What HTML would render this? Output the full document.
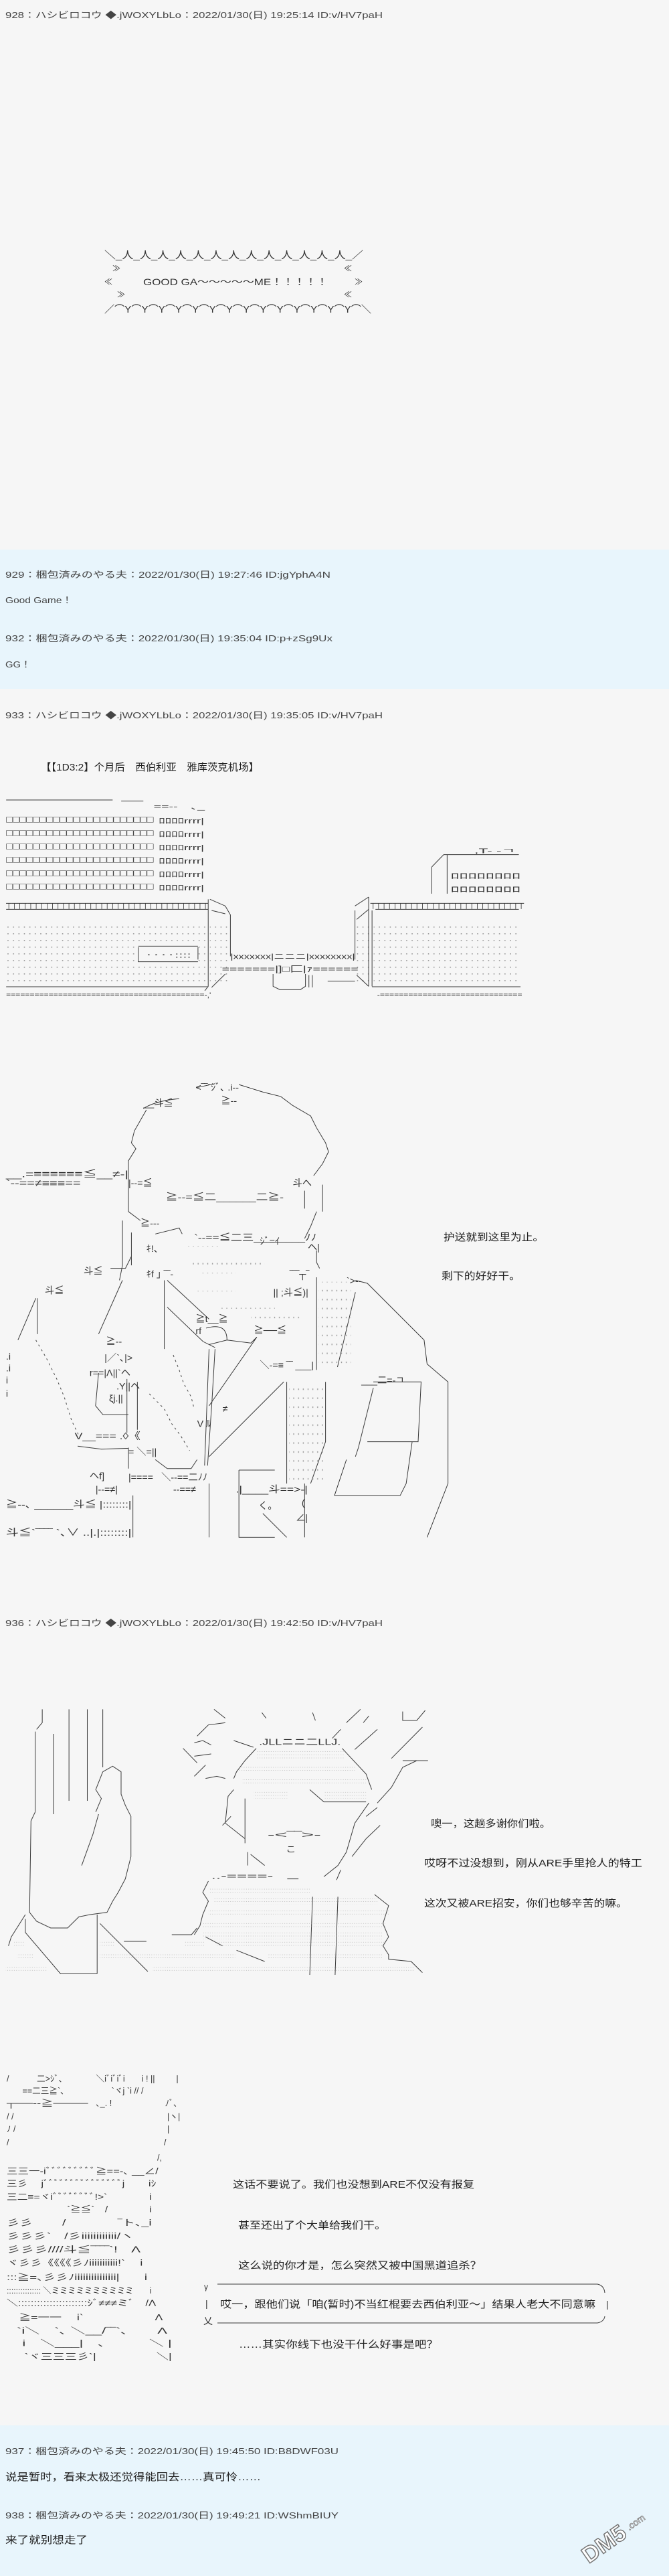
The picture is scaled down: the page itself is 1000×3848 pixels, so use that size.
<!DOCTYPE html>
<html><head><meta charset="utf-8">
<style>
html,body{margin:0;padding:0;background:#f6f6f6;}
svg{display:block}
.s{fill:none;stroke:#3a3a3a;stroke-width:1;vector-effect:non-scaling-stroke}
.d{fill:none;stroke:#444;stroke-width:1;stroke-dasharray:3 5;vector-effect:non-scaling-stroke}
.t{font-family:"Liberation Sans","Noto Sans CJK JP",sans-serif;fill:#333}
.h{font-family:"Liberation Sans","Noto Sans CJK JP",sans-serif;fill:#444;font-size:13px}
.b{font-family:"Liberation Sans","Noto Sans CJK SC",sans-serif;fill:#222;font-size:15px}
</style></head><body>
<svg width="1000" height="3848" viewBox="0 0 1000 3848" xmlns="http://www.w3.org/2000/svg">
<defs>
<pattern id="dp" patternUnits="userSpaceOnUse" width="16" height="30"><rect x="6" y="12" width="3" height="5" fill="#999"/></pattern>
<pattern id="dq" patternUnits="userSpaceOnUse" width="8" height="14"><rect x="2" y="5" width="2" height="2" fill="#999"/></pattern>
</defs>
<rect width="1000" height="3848" fill="#f6f6f6"/>
<rect x="0" y="821" width="1000" height="208" fill="#e8f5fc"/>
<rect x="0" y="3623" width="1000" height="225" fill="#e8f5fc"/>

<!-- 928 -->
<text class="h" x="8" y="27" textLength="564" lengthAdjust="spacingAndGlyphs">928：ハシビロコウ ◆.jWOXYLbLo：2022/01/30(日) 19:25:14 ID:v/HV7paH</text>
<text class="t" x="156" y="386" font-size="15" textLength="387" lengthAdjust="spacingAndGlyphs">＼_人_人_人_人_人_人_人_人_人_人_人_人_人_／</text>
<text class="t" x="168" y="405" font-size="12">≫</text>
<text class="t" x="514" y="405" font-size="12">≪</text>
<text class="t" x="156" y="425" font-size="12">≪</text>
<text class="t" x="214" y="426" font-size="14" textLength="276" lengthAdjust="spacingAndGlyphs">GOOD GA～～～～～ME！！！！！</text>
<text class="t" x="530" y="425" font-size="12">≫</text>
<text class="t" x="175" y="444" font-size="12">≫</text>
<text class="t" x="514" y="444" font-size="12">≪</text>
<text class="t" x="156" y="467" font-size="15" textLength="399" lengthAdjust="spacingAndGlyphs">／⌒Y⌒Y⌒Y⌒Y⌒Y⌒Y⌒Y⌒Y⌒Y⌒Y⌒Y⌒Y⌒Y⌒Y⌒＼</text>

<!-- 929/932 -->
<text class="h" x="8" y="863" textLength="486" lengthAdjust="spacingAndGlyphs">929：梱包済みのやる夫：2022/01/30(日) 19:27:46 ID:jgYphA4N</text>
<text class="h" x="8" y="901" textLength="100" lengthAdjust="spacingAndGlyphs">Good Game！</text>
<text class="h" x="8" y="958" textLength="489" lengthAdjust="spacingAndGlyphs">932：梱包済みのやる夫：2022/01/30(日) 19:35:04 ID:p+zSg9Ux</text>
<text class="h" x="8" y="997" textLength="38" lengthAdjust="spacingAndGlyphs">GG！</text>

<!-- 933 -->
<text class="h" x="8" y="1073" textLength="564" lengthAdjust="spacingAndGlyphs">933：ハシビロコウ ◆.jWOXYLbLo：2022/01/30(日) 19:35:05 ID:v/HV7paH</text>
<text class="b" x="61" y="1151" textLength="326" lengthAdjust="spacingAndGlyphs">【【1D3:2】个月后　西伯利亚　雅库茨克机场】</text>

<!-- airport -->
<svg x="0" y="1180" width="800" height="320" viewBox="0 0 1568 960" preserveAspectRatio="none">
<path class="s" d="M18,45 L330,45 M355,50 L420,50"/>
<text class="t" x="450" y="85" font-size="32" textLength="150" lengthAdjust="spacingAndGlyphs">==--　､_</text>
<g class="t" font-size="40">
<text x="18" y="145" textLength="432" lengthAdjust="spacingAndGlyphs">□□□□□□□□□□□□□□□□□□□□□□</text>
<text x="18" y="205" textLength="432" lengthAdjust="spacingAndGlyphs">□□□□□□□□□□□□□□□□□□□□□□</text>
<text x="18" y="265" textLength="432" lengthAdjust="spacingAndGlyphs">□□□□□□□□□□□□□□□□□□□□□□</text>
<text x="18" y="325" textLength="432" lengthAdjust="spacingAndGlyphs">□□□□□□□□□□□□□□□□□□□□□□</text>
<text x="18" y="385" textLength="432" lengthAdjust="spacingAndGlyphs">□□□□□□□□□□□□□□□□□□□□□□</text>
<text x="18" y="445" textLength="432" lengthAdjust="spacingAndGlyphs">□□□□□□□□□□□□□□□□□□□□□□</text>
</g>
<g class="t" font-size="34">
<text x="465" y="150" textLength="133" lengthAdjust="spacingAndGlyphs">ﾛﾛﾛﾛrrrr|</text>
<text x="465" y="210" textLength="133" lengthAdjust="spacingAndGlyphs">ﾛﾛﾛﾛrrrr|</text>
<text x="465" y="270" textLength="133" lengthAdjust="spacingAndGlyphs">ﾛﾛﾛﾛrrrr|</text>
<text x="465" y="330" textLength="133" lengthAdjust="spacingAndGlyphs">ﾛﾛﾛﾛrrrr|</text>
<text x="465" y="390" textLength="133" lengthAdjust="spacingAndGlyphs">ﾛﾛﾛﾛrrrr|</text>
<text x="465" y="450" textLength="133" lengthAdjust="spacingAndGlyphs">ﾛﾛﾛﾛrrrr|</text>
</g>
<text class="t" x="18" y="520" font-size="42" textLength="592" lengthAdjust="spacingAndGlyphs">┬┬┬┬┬┬┬┬┬┬┬┬┬┬┬┬┬┬┬┬┬┬┬┬┬┬┬┬┬┬┬┬┬┬┬┬┬</text>
<text class="t" x="1085" y="520" font-size="42" textLength="450" lengthAdjust="spacingAndGlyphs">┬┬┬┬┬┬┬┬┬┬┬┬┬┬┬┬┬┬┬┬┬┬┬┬┬┬┬┬</text>
<path class="s" d="M18,535 L610,535 M1100,535 L1520,535"/>
<rect x="18" y="595" width="585" height="280" fill="url(#dp)"/>
<rect x="1095" y="595" width="430" height="280" fill="url(#dp)"/>
<rect x="615" y="595" width="55" height="280" fill="url(#dp)"/>
<rect x="1045" y="595" width="40" height="280" fill="url(#dp)"/>
<rect x="405" y="700" width="175" height="72" fill="#f6f6f6"/>
<path class="s" d="M405,700 L580,700 M405,705 L405,770 L580,770 M580,705 L580,760"/>
<text class="t" x="425" y="752" font-size="34" textLength="135" lengthAdjust="spacingAndGlyphs">‥‥::::</text>
<path class="s" d="M610,490 L610,880 L600,900 M615,490 L660,520 L675,560 L675,745 M620,540 L660,555 M620,885 L660,825"/>
<path class="s" d="M18,882 L610,882 M1090,882 L1525,882"/>
<text class="t" x="18" y="930" font-size="34" textLength="600" lengthAdjust="spacingAndGlyphs">==========================================-,'</text>
<text class="t" x="1105" y="930" font-size="34" textLength="425" lengthAdjust="spacingAndGlyphs">-==============================</text>
<text class="t" x="675" y="758" font-size="34" textLength="365" lengthAdjust="spacingAndGlyphs">|xxxxxxx|ニニニ|xxxxxxxx|</text>
<text class="t" x="650" y="815" font-size="36" textLength="400" lengthAdjust="spacingAndGlyphs">=======|]□匚|ｧ======</text>
<path class="s" d="M800,825 L800,880 L820,895 L880,895 L895,880 L895,825 M905,830 L905,885 M915,830 L915,885 M960,857 L1040,857 M1045,830 L1080,880"/>
<path class="s" d="M1040,520 L1080,480 M1040,540 L1040,760 M1045,580 L1080,535 M1080,480 L1080,880 M1090,540 L1090,880"/>
<path class="s" d="M1265,345 L1300,290 L1520,290 M1310,290 L1310,465 M1265,345 L1265,465"/>
<text class="t" x="1390" y="283" font-size="30" textLength="120" lengthAdjust="spacingAndGlyphs">,T- -ㄱ</text>
<text class="t" x="1320" y="397" font-size="36" textLength="205" lengthAdjust="spacingAndGlyphs">ﾛﾛﾛﾛﾛﾛﾛﾛ</text>
<text class="t" x="1320" y="457" font-size="36" textLength="205" lengthAdjust="spacingAndGlyphs">ﾛﾛﾛﾛﾛﾛﾛﾛ</text>
</svg>

<!-- soldier -->
<svg x="0" y="1600" width="700" height="700" viewBox="0 0 1568 1568" preserveAspectRatio="none">
<g class="t" font-size="32">
<text x="480" y="118">__斗≦</text><text x="740" y="110">≧--</text><text x="655" y="65">&lt;‾‾`ｼﾞ､ .i--</text>
<text x="20" y="355" textLength="410" lengthAdjust="spacingAndGlyphs">__.=≡≡≡≡≡≡≦__≠-|</text>
<text x="20" y="385" textLength="250" lengthAdjust="spacingAndGlyphs">`--==≠≡≡≡==</text>
<text x="430" y="385">|--=≦</text>
<text x="555" y="432" textLength="395" lengthAdjust="spacingAndGlyphs">≧--=≦二______二≧-</text>
<text x="980" y="385">斗へ</text>
<text x="470" y="520">≧---</text>
<text x="650" y="568" textLength="410" lengthAdjust="spacingAndGlyphs">`--==≦二三________ﾉﾉ</text>
<text x="490" y="605">ｷ!､</text><text x="870" y="580">ｼﾞ=ｲ</text><text x="1030" y="600">ヘ|</text>
<text x="280" y="680">斗≦</text><text x="150" y="745">斗≦</text>
<text x="490" y="690">ｷf ｣ ‾‾-</text><text x="970" y="690">‾‾‾┬‾</text>
<text x="915" y="752">|| ;斗≦)|</text><text x="1160" y="712">`>--</text>
<text x="655" y="840">≧t__≧</text><text x="655" y="880">rf</text>
<text x="850" y="878">≧──≦</text>
<text x="355" y="915">≧--</text><text x="350" y="970">|／`､|&gt;</text>
<text x="300" y="1020">r==|Λ||`ヘ</text><text x="390" y="1065">.Y||ヘ</text><text x="365" y="1105">ξj.||</text>
<text x="745" y="1140">≠</text><text x="660" y="1190">V ﾙ</text>
<text x="250" y="1232" textLength="220" lengthAdjust="spacingAndGlyphs">V__=== .◊《</text>
<text x="430" y="1285">= ＼=||</text>
<text x="300" y="1365">ヘf]</text><text x="430" y="1370">|====</text><text x="540" y="1370">＼--==二ﾉﾉ</text>
<text x="320" y="1410">|--=≠|</text><text x="580" y="1410">--==≠</text>
<text x="20" y="1460" textLength="420" lengthAdjust="spacingAndGlyphs">≧--､ ______斗≦ |::::::::|</text>
<text x="20" y="1555" textLength="420" lengthAdjust="spacingAndGlyphs">斗≦`‾‾‾‾ `､∨ ..|.|::::::::|</text>
<text x="790" y="1410" textLength="240" lengthAdjust="spacingAndGlyphs">.|____斗==&gt;-|</text>
<text x="865" y="1465">く｡</text><text x="1010" y="1455">(</text><text x="990" y="1505">∠|</text>
<text x="870" y="995">＼-=≡ ‾‾ ___|</text>
<text x="1210" y="1045">___二=-ㄱ</text>
<text x="20" y="965">.i</text><text x="20" y="1005">.i</text><text x="20" y="1045">i</text><text x="20" y="1090">i</text>
</g>
<path class="s" d="M480,125 Q520,100 600,92 M660,55 L720,42 M800,45 L880,70 L940,85 L980,115 L1040,150 L1060,190 L1090,240 L1100,270 L1080,310 L1050,350"/>
<path class="s" d="M490,130 L450,200 L440,240 L455,260 L430,300 L430,330 M430,330 L430,470 L470,500"/>
<path class="s" d="M1020,400 L1020,460 M1080,380 L1080,470 M1060,470 L1040,520 L1020,560 M1060,600 L1060,640 L1070,660"/>
<path class="s" d="M520,545 L600,525 L610,545 M410,500 L410,650 L400,700 M440,540 L440,650 M370,660 L420,660 L440,620"/>
<path class="s" d="M120,760 L60,900 M125,760 L125,880 M410,700 L330,880"/>
<path class="d" d="M120,900 L155,960 L190,1030 L215,1090 L240,1170 L262,1215 M580,950 L600,1000 L615,1045 L640,1090 L650,1130 M500,1080 L550,1130 L575,1180 L605,1220 L635,1270"/>
<path class="s" d="M330,1010 L320,1120 L345,1150 L430,1150 M425,1030 L425,1210 M460,1040 L460,1200 M430,1260 L430,1330 M260,1255 L340,1265 L430,1262"/>
<path class="s" d="M550,700 L550,930 M560,700 L700,830 M560,790 L680,905 L720,925 M690,860 Q760,840 760,900 L700,915 M720,930 L710,1100 L695,1320 M700,930 L685,1320 M760,900 L840,910 L860,890 M860,890 L700,1120 M950,1040 L700,1290"/>
<path class="s" d="M520,1300 L560,1330 L640,1330 L660,1300 M700,1380 L700,1560 M445,1420 L445,1560"/>
<path class="s" d="M1060,690 L1060,1000 M1190,700 L1230,710 L1420,900 L1430,980 L1500,1040 L1500,1380 L1430,1560"/>
<rect x="1065" y="705" width="110" height="290" fill="url(#dp)"/>
<path class="s" d="M1190,740 L1130,990 M960,1040 L960,1380 M1090,1040 L1090,1240 L1040,1380"/>
<rect x="968" y="1040" width="118" height="330" fill="url(#dp)"/>
<path class="s" d="M1250,1040 L1410,1040 L1400,1240 L1230,1240 M1250,1060 L1200,1260 L1190,1290 M1380,1240 L1360,1380 L1340,1420 L1120,1420 L1160,1300"/>
<path class="s" d="M800,1335 L920,1335 M800,1335 L800,1560 L920,1560 M880,1480 L960,1560 M1020,1380 L1020,1560"/>
<rect x="630" y="585" width="100" height="20" fill="url(#dp)"/>
<rect x="640" y="625" width="245" height="25" fill="url(#dp)"/>
<rect x="670" y="675" width="120" height="25" fill="url(#dp)"/>
<rect x="660" y="735" width="130" height="20" fill="url(#dp)"/>
<rect x="740" y="770" width="180" height="25" fill="url(#dp)"/>
<rect x="840" y="810" width="170" height="25" fill="url(#dp)"/>
</svg>
<text class="b" x="663" y="1853" textLength="150" lengthAdjust="spacingAndGlyphs">护送就到这里为止。</text>
<text class="b" x="660" y="1911" textLength="118" lengthAdjust="spacingAndGlyphs">剩下的好好干。</text>

<!-- 936 -->
<text class="h" x="8" y="2429" textLength="564" lengthAdjust="spacingAndGlyphs">936：ハシビロコウ ◆.jWOXYLbLo：2022/01/30(日) 19:42:50 ID:v/HV7paH</text>
<svg x="0" y="2540" width="660" height="430" viewBox="0 0 1568 1290" preserveAspectRatio="none">
<path class="s" d="M150,40 L150,100 L130,130 M125,140 L125,500 M190,150 L190,510 M245,40 L245,450 M310,40 L310,450 M365,40 L365,300"/>
<path class="s" d="M365,320 L400,295 L430,320 L430,420 L445,470 L465,520 L465,700 L445,800 L420,860 L400,900 M365,320 L340,400 L360,440 L350,470 L340,500 M350,510 L330,600 L290,740"/>
<path class="s" d="M125,500 L110,540 L105,950 L130,990 L180,1020 L240,1020 L280,970 L320,960 L380,950 L400,900"/>
<path class="s" d="M90,960 L70,1000 L40,1060 L30,1100 M90,980 L90,1040 L215,1225 L345,1225 M345,960 L345,1225 M355,1000 L525,1215 M440,1080 L520,1080 M610,1050 L680,1050 L700,1020"/>
<path class="s" d="M760,40 L800,80 M930,55 L945,80 M1110,55 L1120,90 M1280,40 L1230,100 M1310,70 L1290,100 M1430,50 L1430,90 L1480,90 L1510,45 M1500,120 L1390,260 M1340,130 L1260,220 M1210,130 L1180,170 M1430,270 L1520,270 M1480,270 L1430,300 L1390,390 L1340,460"/>
<path class="s" d="M700,160 L740,110 L800,100 M690,190 L720,180 L750,200 M650,215 L700,280 M690,250 L750,240 M730,290 L690,340 M730,350 L770,340 L800,350 M830,180 L900,210"/>
<text class="t" x="920" y="200" font-size="40" textLength="290" lengthAdjust="spacingAndGlyphs">.JLLニニ二LLJ.</text>
<path class="s" d="M910,215 L870,270 L840,320 L830,350 M1215,215 L1300,330 L1320,400 M1100,400 L1150,455 L1300,455 M830,400 L810,430 L800,550 L870,620 M870,440 L870,640 M790,560 L820,520 M880,680 L880,740 M890,690 L940,740"/>
<rect x="910" y="225" width="310" height="35" fill="url(#dq)"/>
<rect x="850" y="290" width="410" height="30" fill="url(#dq)"/>
<rect x="860" y="350" width="440" height="30" fill="url(#dq)"/>
<rect x="900" y="410" width="120" height="30" fill="url(#dq)"/>
<rect x="1150" y="410" width="150" height="30" fill="url(#dq)"/>
<text class="t" x="950" y="615" font-size="40" textLength="190" lengthAdjust="spacingAndGlyphs">-&lt;‾‾&gt;-</text>
<text class="t" x="1015" y="680" font-size="36">こ</text>
<path class="s" d="M1310,460 L1260,550 L1230,680 L1200,740 L1150,790 M1340,480 L1300,520 M1350,560 L1300,620 L1250,700 M1210,760 L1195,805"/>
<text class="t" x="750" y="800" font-size="36" textLength="220" lengthAdjust="spacingAndGlyphs">..-====-</text>
<path class="s" d="M1020,800 L1060,800 M740,810 L720,860 L740,900 L720,960 L710,1010 L690,1050 M1330,870 L1380,920 L1360,1000 L1380,1060 L1360,1100 L1380,1140 L1380,1160 L1460,1170 L1500,1220 M1110,880 L1100,1230 M1200,880 L1190,1230 M730,1060 L790,1100 M840,1120 L940,1170"/>
<rect x="745" y="835" width="355" height="30" fill="url(#dq)"/>
<rect x="760" y="885" width="580" height="30" fill="url(#dq)"/>
<rect x="740" y="940" width="640" height="30" fill="url(#dq)"/>
<rect x="720" y="990" width="650" height="30" fill="url(#dq)"/>
<rect x="720" y="1040" width="640" height="30" fill="url(#dq)"/>
<rect x="770" y="1075" width="600" height="30" fill="url(#dq)"/>
<rect x="950" y="1130" width="410" height="30" fill="url(#dq)"/>
<rect x="540" y="1185" width="930" height="35" fill="url(#dq)"/>
<rect x="355" y="1075" width="50" height="30" fill="url(#dq)"/>
<rect x="355" y="1135" width="480" height="25" fill="url(#dq)"/>
<rect x="50" y="1075" width="40" height="30" fill="url(#dq)"/>
<rect x="60" y="1135" width="60" height="30" fill="url(#dq)"/>
<rect x="20" y="1190" width="145" height="30" fill="url(#dq)"/>
<rect x="655" y="1075" width="70" height="25" fill="url(#dq)"/>
</svg>
<text class="b" x="644" y="2729" textLength="179" lengthAdjust="spacingAndGlyphs">噢一，这趟多谢你们啦。</text>
<text class="b" x="634" y="2788" textLength="326" lengthAdjust="spacingAndGlyphs">哎呀不过没想到，刚从ARE手里抢人的特工</text>
<text class="b" x="634" y="2848" textLength="304" lengthAdjust="spacingAndGlyphs">这次又被ARE招安，你们也够辛苦的嘛。</text>

<!-- second art -->
<svg x="0" y="3080" width="450" height="460" viewBox="0 0 1350 1380">
<g class="t" font-size="38">
<text x="30" y="88">/</text><text x="165" y="88">二&gt;ｼﾞ､</text><text x="430" y="88" textLength="130" lengthAdjust="spacingAndGlyphs">＼iﾞiﾞiﾞi</text><text x="635" y="88">i ! ||</text><text x="790" y="88">|</text>
<text x="100" y="143">==二三≧`､</text><text x="500" y="143">`ヾj `i // /</text>
<text x="30" y="198" textLength="365" lengthAdjust="spacingAndGlyphs">┬──--≧────</text><text x="430" y="198">､_. !</text><text x="740" y="198">ﾉﾞ､</text>
<text x="30" y="258">/   /</text><text x="750" y="258">|ヽ|</text>
<text x="30" y="313">ﾉ /</text><text x="750" y="313">|</text>
<text x="30" y="373">/</text><text x="735" y="373">/</text><text x="705" y="443">/,</text>
<text x="30" y="503" textLength="680" lengthAdjust="spacingAndGlyphs">三三一-iﾞﾞﾞﾞﾞﾞﾞﾞﾞ≧==-､ __∠/</text>
<text x="30" y="558" textLength="670" lengthAdjust="spacingAndGlyphs">三彡　 jﾞﾞﾞﾞﾞﾞﾞﾞﾞﾞﾞﾞﾞﾞﾞj　　 iｼ</text>
<text x="30" y="618" textLength="650" lengthAdjust="spacingAndGlyphs">三二≡=ヾiﾞﾞﾞﾞﾞﾞﾞﾞ!&gt;`　　　　i</text>
<text x="300" y="673" textLength="380" lengthAdjust="spacingAndGlyphs">`≧≦`　/　　　　i</text>
<text x="30" y="733" textLength="650" lengthAdjust="spacingAndGlyphs">彡彡　　 /　　　　‾ト､_i</text>
<text x="30" y="793" textLength="570" lengthAdjust="spacingAndGlyphs">彡彡彡`　/彡iiiiiiiiiiii/ヽ</text>
<text x="30" y="853" textLength="600" lengthAdjust="spacingAndGlyphs">彡彡彡////斗≦‾‾‾‾`!　Λ</text>
<text x="30" y="913" textLength="610" lengthAdjust="spacingAndGlyphs">ヾ彡彡《《《《彡ﾉiiiiiiiiiii!`　 i</text>
<text x="30" y="978" textLength="630" lengthAdjust="spacingAndGlyphs">:::≧=､彡彡ﾉiiiiiiiiiiiiiii|　　i</text>
<text x="30" y="1038" textLength="650" lengthAdjust="spacingAndGlyphs">::::::::::::::: ＼ミミミミミミミミミミ　　i</text>
<text x="30" y="1093" textLength="670" lengthAdjust="spacingAndGlyphs">＼::::::::::::::::::::::ｼﾞ≠≠≠ミﾞ　/Λ</text>
<text x="85" y="1158" textLength="645" lengthAdjust="spacingAndGlyphs">≧=一一　 i`　　　　　　Λ</text>
<text x="75" y="1218" textLength="675" lengthAdjust="spacingAndGlyphs">`i＼　`､ ＼__/‾‾`､　　Λ</text>
<text x="100" y="1273" textLength="670" lengthAdjust="spacingAndGlyphs">i　＼___|　､　　　＼ |</text>
<text x="110" y="1333" textLength="660" lengthAdjust="spacingAndGlyphs">`ヾ三三三彡`|　　　　　＼|</text>
</g>
</svg>
<text class="b" x="348" y="3268" textLength="361" lengthAdjust="spacingAndGlyphs">这话不要说了。我们也没想到ARE不仅没有报复</text>
<text class="b" x="356" y="3329" textLength="221" lengthAdjust="spacingAndGlyphs">甚至还出了个大单给我们干。</text>
<text class="b" x="356" y="3389" textLength="364" lengthAdjust="spacingAndGlyphs">这么说的你才是，怎么突然又被中国黑道追杀？</text>
<path class="s" d="M325,3412 L893,3412 Q903,3414 904,3425 M904,3460 Q903,3468 893,3470 L325,3470"/>
<text class="t" x="305" y="3420" font-size="12">γ</text>
<text class="t" x="307" y="3446" font-size="14">|</text>
<text class="t" x="304" y="3472" font-size="14">乂</text>
<text class="b" x="329" y="3447" textLength="561" lengthAdjust="spacingAndGlyphs">哎一，跟他们说「咱(暂时)不当红棍要去西伯利亚～」结果人老大不同意嘛</text>
<text class="t" x="906" y="3447" font-size="14">|</text>
<text class="b" x="357" y="3507" textLength="298" lengthAdjust="spacingAndGlyphs">……其实你线下也没干什么好事是吧？</text>

<!-- 937/938 -->
<text class="h" x="8" y="3666" textLength="498" lengthAdjust="spacingAndGlyphs">937：梱包済みのやる夫：2022/01/30(日) 19:45:50 ID:B8DWF03U</text>
<text class="b" x="8" y="3705" textLength="382" lengthAdjust="spacingAndGlyphs">说是暂时，看来太极还觉得能回去……真可怜……</text>
<text class="h" x="8" y="3762" textLength="498" lengthAdjust="spacingAndGlyphs">938：梱包済みのやる夫：2022/01/30(日) 19:49:21 ID:WShmBIUY</text>
<text class="b" x="8" y="3799" textLength="123" lengthAdjust="spacingAndGlyphs">来了就别想走了</text>

<!-- watermark -->
<g transform="translate(880,3830) rotate(-35)">
<text x="0" y="0" font-family="Liberation Sans,sans-serif" font-weight="bold" font-size="34" fill="#fff" stroke="#777" stroke-width="1.5">DM5</text>
<text x="78" y="-6" font-family="Liberation Sans,sans-serif" font-size="14" fill="#fff" stroke="#888" stroke-width="0.8">.com</text>
</g>
</svg>
</body></html>
